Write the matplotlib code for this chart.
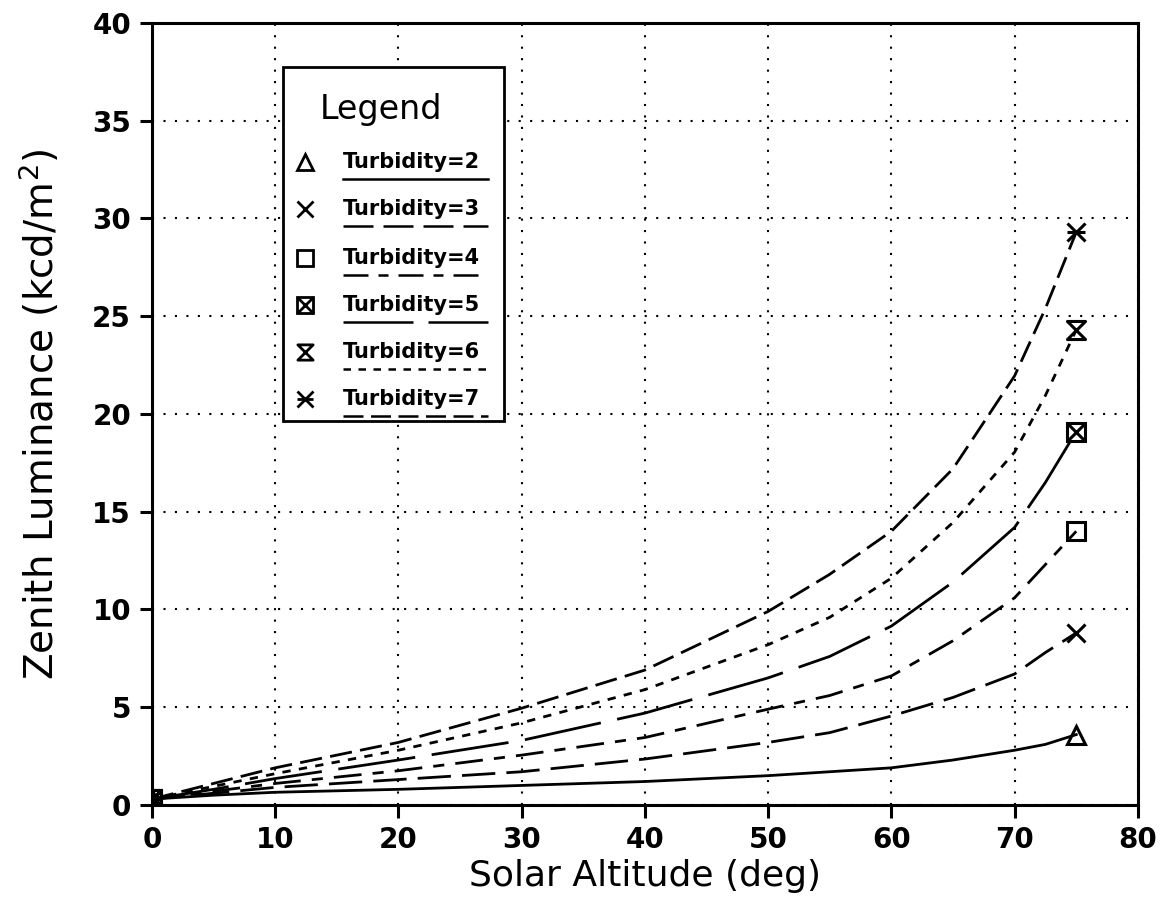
import matplotlib
matplotlib.use('Agg')
import matplotlib.pyplot as plt
from matplotlib.path import Path
from matplotlib.lines import Line2D
from matplotlib.patches import Rectangle

# solar altitude (deg)
altitude = [0, 5, 10, 20, 30, 40, 50, 55, 60, 65, 70, 72.5, 75]

# zenith luminance (kcd/m2), one list per turbidity
lum_t2 = [0.3, 0.5, 0.65, 0.8, 1.0, 1.2, 1.5, 1.7, 1.9, 2.3, 2.8, 3.1, 3.6]
lum_t3 = [0.3, 0.6, 0.9, 1.3, 1.7, 2.35, 3.2, 3.7, 4.55, 5.5, 6.7, 7.8, 8.8]
lum_t4 = [0.3, 0.7, 1.1, 1.75, 2.55, 3.45, 4.9, 5.6, 6.6, 8.4, 10.6, 12.3,
          14.0]
lum_t5 = [0.3, 0.8, 1.35, 2.3, 3.3, 4.7, 6.5, 7.6, 9.15, 11.4, 14.2, 16.5,
          19.1]
lum_t6 = [0.3, 0.95, 1.6, 2.8, 4.2, 5.9, 8.2, 9.6, 11.6, 14.45, 18.05, 20.95,
          24.3]
lum_t7 = [0.3, 1.1, 1.9, 3.2, 4.95, 6.9, 9.9, 11.8, 14.0, 17.2, 21.95, 25.4,
          29.3]

labels = ['Turbidity=2', 'Turbidity=3', 'Turbidity=4',
          'Turbidity=5', 'Turbidity=6', 'Turbidity=7']

xticks = [0, 10, 20, 30, 40, 50, 60, 70, 80]
yticks = [0, 5, 10, 15, 20, 25, 30, 35, 40]

# hourglass marker for turbidity 6
hourglass = Path([(-1, 1), (1, 1), (-1, -1), (1, -1), (-1, 1)],
                 [Path.MOVETO, Path.LINETO, Path.LINETO, Path.LINETO,
                  Path.CLOSEPOLY])

series = [
    (lum_t2, '-', ['^']),
    (lum_t3, (0, (12, 4)), ['x']),
    (lum_t4, (0, (10, 4, 4, 4)), ['s']),
    (lum_t5, (0, (28, 6)), ['s', 'x']),
    (lum_t6, (0, (3, 3)), [hourglass]),
    (lum_t7, (0, (8, 3)), ['x', '_']),
]

plt.rcParams['font.family'] = 'DejaVu Sans'

fig = plt.figure(figsize=(11.68, 9.16), dpi=100)
ax = fig.add_axes([0.130, 0.1212, 0.8442, 0.8537])

for values, ls, markers in series:
    ax.plot(altitude, values, color='black', lw=2, linestyle=ls)
    for m in markers:
        ax.plot(altitude, values, linestyle='none', marker=m,
                markevery=[0, len(altitude) - 1], ms=13, mew=2.2,
                mfc='none', mec='black')

ax.set_xlim(0, 80)
ax.set_ylim(0, 40)
ax.set_xticks(xticks)
ax.set_yticks(yticks)
ax.tick_params(direction='out', length=9, width=2.2, labelsize=20, pad=6)
for lab in ax.get_xticklabels() + ax.get_yticklabels():
    lab.set_fontweight('bold')
for s in ax.spines.values():
    s.set_linewidth(2.2)
ax.grid(True, color='black', linestyle=(0, (1, 4.5)), linewidth=1.5)

ax.set_xlabel('Solar Altitude (deg)', fontsize=26, labelpad=4)
ax.set_ylabel('Zenith Luminance (kcd/m$^2$)', fontsize=28, labelpad=22)

# hand-built legend box: marker, label, and line sample underneath
ax.add_patch(Rectangle((0.133, 0.491), 0.224, 0.453, transform=ax.transAxes,
                       facecolor='white', edgecolor='black', lw=2, zorder=5))
ax.text(0.232, 0.889, 'Legend', transform=ax.transAxes, fontsize=24,
        ha='center', va='center', zorder=6)
rows = [0.822, 0.762, 0.700, 0.639, 0.579, 0.519]
for (values, ls, markers), label, yy in zip(series, labels, rows):
    for m in markers:
        ax.plot([0.155], [yy], transform=ax.transAxes, marker=m, ms=11,
                mew=2, mfc='none', mec='black', linestyle='none', zorder=6,
                clip_on=False)
    ax.text(0.194, yy, label, transform=ax.transAxes, fontsize=15,
            fontweight='bold', ha='left', va='center', zorder=6)
    ax.add_line(Line2D([0.194, 0.341], [yy - 0.022, yy - 0.022],
                       transform=ax.transAxes, color='black', lw=1.8,
                       linestyle=ls, zorder=6))

plt.savefig('out.png', dpi=100)
